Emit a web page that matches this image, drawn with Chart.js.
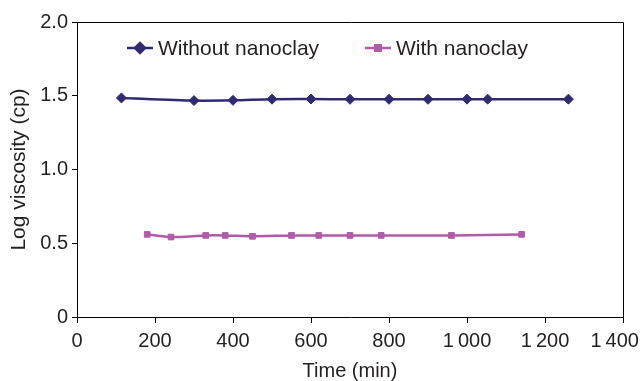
<!DOCTYPE html>
<html>
<head>
<meta charset="utf-8">
<script src="https://cdn.jsdelivr.net/npm/chart.js@4"></script>
<style>
  html, body { margin: 0; padding: 0; background: #fff; }
  #wrap { width: 640px; height: 381px; }
</style>
</head>
<body>
<div id="wrap"><canvas id="viscChart" width="640" height="381"></canvas></div>
<script>
// data
const timeWithout = [114, 300, 400, 500, 600, 700, 800, 900, 1000, 1053, 1260];
const logWithout = [1.485, 1.467, 1.469, 1.477, 1.478, 1.476, 1.476, 1.476, 1.477, 1.477, 1.477];

const timeWith = [180, 241, 330, 380, 450, 550, 620, 700, 780, 960, 1140];
const logWith = [0.56, 0.542, 0.553, 0.553, 0.547, 0.553, 0.553, 0.553, 0.553, 0.553, 0.56];

const xTickLabels = ["0", "200", "400", "600", "800", "1\u2009000", "1\u2009200", "1\u2009400"];
const yTickLabels = ["0", "0.5", "1.0", "1.5", "2.0"];
const seriesNames = ["Without nanoclay", "With nanoclay"];

const navy = "#2f2b72";
const pink = "#b05aa8";
const textColor = "#231f20";
const fontFamily = "'Liberation Sans', Arial, Helvetica, sans-serif";

function toPoints(xs, ys) {
  return xs.map((x, i) => ({ x: x, y: ys[i] }));
}

// box around plot + legend drawn inside the plot
const boxAndLegend = {
  id: "boxAndLegend",
  afterDraw(chart) {
    const ctx = chart.ctx;
    const a = chart.chartArea;
    ctx.save();
    ctx.strokeStyle = "#000";
    ctx.lineWidth = 1;
    ctx.beginPath();
    ctx.moveTo(a.left, a.top + 0.5);
    ctx.lineTo(a.right + 0.5, a.top + 0.5);
    ctx.lineTo(a.right + 0.5, a.bottom);
    ctx.stroke();

    const items = [
      { x: 127, color: navy, style: "rectRot", r: 5 },
      { x: 365, color: pink, style: "rect", r: 4 }
    ];
    const y = 48;
    ctx.font = "21px " + fontFamily;
    ctx.textBaseline = "middle";
    items.forEach((it, i) => {
      ctx.strokeStyle = it.color;
      ctx.lineWidth = 2.5;
      ctx.beginPath();
      ctx.moveTo(it.x, y);
      ctx.lineTo(it.x + 26, y);
      ctx.stroke();
      Chart.helpers.drawPoint(ctx, { pointStyle: it.style, radius: it.r, borderWidth: 1 }, it.x + 13, y);
      ctx.fillStyle = it.color;
      ctx.fill();
      ctx.fillStyle = textColor;
      ctx.fillText(seriesNames[i], it.x + 31, y + 1);
    });
    ctx.restore();
  }
};

new Chart(document.getElementById("viscChart"), {
  type: "line",
  data: {
    datasets: [
      {
        label: seriesNames[0],
        data: toPoints(timeWithout, logWithout),
        borderColor: navy,
        backgroundColor: navy,
        borderWidth: 2.5,
        pointStyle: "rectRot",
        pointRadius: 5,
        pointBorderWidth: 1,
        tension: 0.25
      },
      {
        label: seriesNames[1],
        data: toPoints(timeWith, logWith),
        borderColor: pink,
        backgroundColor: pink,
        borderWidth: 2.5,
        pointStyle: "rect",
        pointRadius: 4,
        pointBorderWidth: 1,
        tension: 0.25
      }
    ]
  },
  options: {
    responsive: false,
    animation: false,
    layout: { padding: { top: 22, right: 17, left: 0, bottom: 0 } },
    plugins: {
      legend: { display: false },
      tooltip: { enabled: false }
    },
    scales: {
      x: {
        type: "linear",
        min: 0,
        max: 1400,
        // let the last label run past the plot like in the original
        afterFit: s => { s.height = 64; s.paddingRight = 0; s.paddingLeft = 0; },
        ticks: {
          stepSize: 200,
          color: textColor,
          font: { family: fontFamily, size: 20 },
          padding: 6,
          maxRotation: 0,
          callback: (v) => {
            const i = v / 200;
            // last label sits a bit to the left so it stays on the page
            return i === xTickLabels.length - 1 ? xTickLabels[i] + "\u00a0\u00a0\u00a0" : xTickLabels[i];
          }
        },
        grid: { display: true, drawOnChartArea: false, drawTicks: true, tickLength: 6, color: "#000" },
        border: { display: true, color: "#000", width: 1 },
        title: {
          display: true,
          text: "Time (min)",
          color: textColor,
          font: { family: fontFamily, size: 20, lineHeight: 1 },
          padding: { top: 0, bottom: 0 }
        }
      },
      y: {
        min: 0,
        max: 2,
        afterFit: s => { s.width = 77; },
        ticks: {
          stepSize: 0.5,
          color: textColor,
          font: { family: fontFamily, size: 20 },
          padding: 4,
          callback: (v) => yTickLabels[Math.round(v / 0.5)]
        },
        grid: { display: true, drawOnChartArea: false, drawTicks: true, tickLength: 5, color: "#000" },
        border: { display: true, color: "#000", width: 1 },
        title: {
          display: true,
          text: "Log viscosity (cp)",
          color: textColor,
          font: { family: fontFamily, size: 21, lineHeight: 1.2 },
          padding: { top: 7, bottom: 0 }
        }
      }
    }
  },
  plugins: [boxAndLegend]
});
</script>
</body>
</html>
